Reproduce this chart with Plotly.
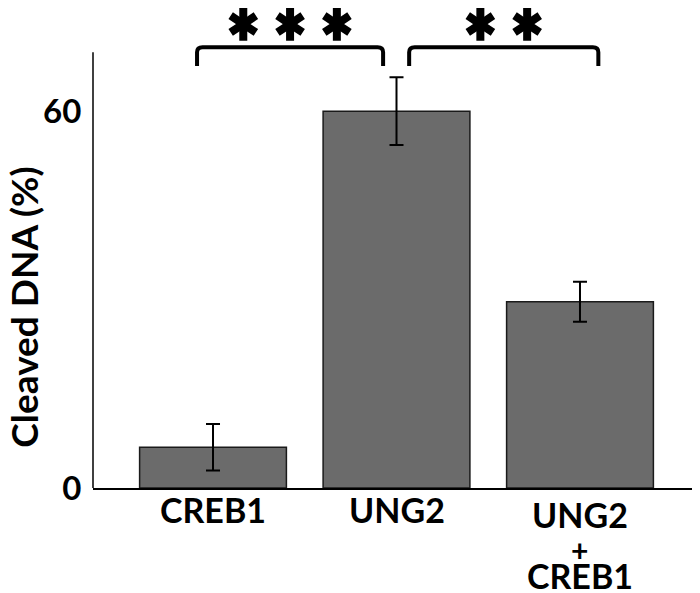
import plotly.graph_objects as go

# data
groups = ["CREB1", "UNG2", "UNG2 + CREB1"]
cleaved = [6.5, 60.1, 29.7]
err = [3.7, 5.4, 3.2]

# significance brackets: (left x, right x, number of stars)
brackets = [(-0.087, 0.927, 3), (1.069, 2.10, 2)]
bracket_low, bracket_high = 67.3, 70.3
star_y = 74.0
star_step = 0.255

FONT = "Lato"
bar_fill = "#6b6b6b"

fig = go.Figure()

fig.add_trace(go.Bar(
    x=[0, 1, 2],
    y=cleaved,
    width=0.8,
    marker=dict(color=bar_fill, line=dict(color="#1a1a1a", width=1.5)),
    error_y=dict(type="data", array=err, color="black", thickness=2, width=7),
    showlegend=False,
))

# y axis line stops short of the top (~69.5)
fig.add_shape(type="line", xref="paper", yref="y", x0=0, x1=0, y0=0, y1=69.5,
              line=dict(color="black", width=1.5))

# brackets + stars
sx, sy = [], []
for x0, x1, n in brackets:
    r = 0.03
    path = (f"M {x0},{bracket_low} L {x0},{bracket_high-0.8} Q {x0},{bracket_high} {x0+r},{bracket_high} "
            f"L {x1-r},{bracket_high} Q {x1},{bracket_high} {x1},{bracket_high-0.8} L {x1},{bracket_low}")
    fig.add_shape(type="path", path=path, xref="x", yref="y",
                  line=dict(color="black", width=4))
    mid = (x0 + x1) / 2
    for i in range(n):
        sx.append(mid + (i - (n - 1) / 2) * star_step)
        sy.append(star_y)

for sym in ["y-up", "y-down"]:
    fig.add_trace(go.Scatter(
        x=sx, y=sy, mode="markers", cliponaxis=False, showlegend=False, hoverinfo="skip",
        marker=dict(symbol=sym, size=21, line=dict(color="black", width=8)),
    ))

# category labels
label_font = dict(family=FONT, size=34, color="black", weight="bold")
fig.add_annotation(x=0, y=0, xref="x", yref="paper", text=groups[0], showarrow=False,
                   yanchor="top", yshift=1, font=label_font)
fig.add_annotation(x=1, y=0, xref="x", yref="paper", text=groups[1], showarrow=False,
                   yanchor="top", yshift=1, font=label_font)
parts = groups[2].split(" ")
fig.add_annotation(x=2, y=0, xref="x", yref="paper", text=parts[0], showarrow=False,
                   yanchor="top", yshift=-4, font=label_font)
fig.add_annotation(x=2, y=0, xref="x", yref="paper", text=parts[1], showarrow=False,
                   yanchor="top", yshift=-42,
                   font=dict(family=FONT, size=30, color="black", weight="bold"))
fig.add_annotation(x=2, y=0, xref="x", yref="paper", text=parts[2], showarrow=False,
                   yanchor="top", yshift=-65, font=label_font)

# y title
fig.add_annotation(x=-0.115, y=28.8, xref="paper", yref="y", text="Cleaved DNA (%)",
                   textangle=-90, showarrow=False, xanchor="center", yanchor="middle",
                   font=dict(family=FONT, size=37, color="black", weight="bold"))

# page has 8px body margin, so the figure is sized/placed to line up with 700x593 window
fig.update_layout(
    width=692, height=585,
    margin=dict(l=85, r=0, t=0, b=105),
    plot_bgcolor="white", paper_bgcolor="white",
    xaxis=dict(range=[-0.654, 2.654], showticklabels=False, showgrid=False, zeroline=False,
               showline=True, linecolor="black", linewidth=1.5, ticks=""),
    yaxis=dict(range=[0, 76.56], tickvals=[0, 60], ticktext=["0", "60"], showgrid=False,
               zeroline=False, showline=False, ticks="outside", ticklen=4,
               tickcolor="rgba(0,0,0,0)",
               tickfont=dict(family=FONT, size=33, color="black", weight="bold")),
)

fig.write_html("out.html")
